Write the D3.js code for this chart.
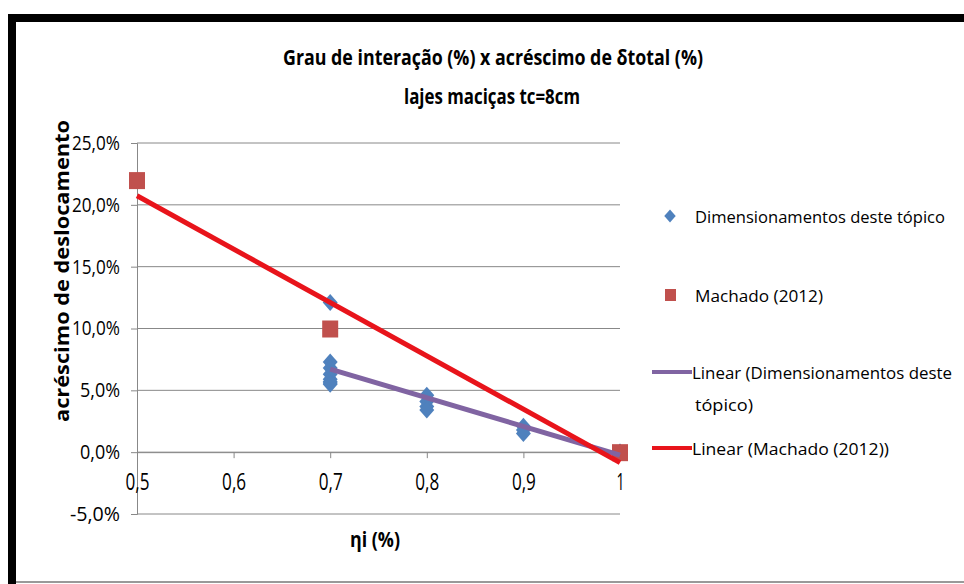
<!DOCTYPE html>
<html>
<head>
<meta charset="utf-8">
<script src="https://cdn.jsdelivr.net/npm/d3@7"></script>
<style>
  html, body { margin: 0; padding: 0; background: #fff; }
  svg { display: block; }
  text { font-family: "Open Sans", "Noto Sans", sans-serif; fill: #000; }
</style>
</head>
<body>
<svg id="chart" width="964" height="584"></svg>
<script>
// Degree of interaction (x) vs. increase of total displacement (y, fraction)
const dimX = [0.7, 0.7, 0.7, 0.7, 0.7, 0.7, 0.7, 0.7,
              0.8, 0.8, 0.8, 0.8,
              0.9, 0.9, 0.9,
              1.0, 1.0, 1.0, 1.0, 1.0];
const dimY = [0.121, 0.073, 0.068, 0.063, 0.059, 0.057, 0.056, 0.055,
              0.046, 0.041, 0.037, 0.034,
              0.021, 0.018, 0.015,
              0.0, 0.0, 0.0, 0.0, 0.0];
const machX = [0.5, 0.7, 1.0];
const machY = [0.22, 0.10, 0.0];

const xTicks = [0.5, 0.6, 0.7, 0.8, 0.9, 1.0];
const yTicks = [-0.05, 0, 0.05, 0.10, 0.15, 0.20, 0.25];

const titleText = "Grau de interação (%) x acréscimo de δtotal (%)";
const subtitleText = "lajes maciças tc=8cm";
const xTitle = "ηi (%)";
const yTitle = "acréscimo de deslocamento";
const legendLabels = ["Dimensionamentos deste tópico", "Machado (2012)",
                      "Linear (Dimensionamentos deste", "tópico)", "Linear (Machado (2012))"];

const C_BLUE = "#4f81bd", C_RED = "#c0504d", C_PURPLE = "#8064a2", C_LINE_RED = "#e8141b";

const svg = d3.select("#chart");

// frame
svg.append("rect").attr("x", 8).attr("y", 14).attr("width", 956).attr("height", 8).attr("fill", "#000");
svg.append("rect").attr("x", 8).attr("y", 14).attr("width", 8).attr("height", 570).attr("fill", "#000");
svg.append("line").attr("x1", 16).attr("x2", 964).attr("y1", 582).attr("y2", 582)
  .attr("stroke", "#777").attr("stroke-width", 1.5);

const x = d3.scaleLinear().domain([0.5, 1.0]).range([137, 620]);
const y = d3.scaleLinear().domain([-0.05, 0.25]).range([514, 143]);

const fmtPct = v => d3.format(".1%")(v).replace(".", ",").replace("\u2212", "-");
const fmtX = v => (v === 1 ? "1" : d3.format(".1f")(v).replace(".", ","));

// narrow, tall lettering: squeeze text horizontally to a given width
function squeeze(sel, widthFn) {
  sel.attr("textLength", widthFn).attr("lengthAdjust", "spacingAndGlyphs");
}

// gridlines
svg.append("g").selectAll("line").data(yTicks).join("line")
  .attr("x1", x(0.5)).attr("x2", x(1.0))
  .attr("y1", d => y(d)).attr("y2", d => y(d))
  .attr("stroke", "#888").attr("stroke-width", 1);

// y axis
const yAxis = svg.append("g").attr("transform", `translate(${x(0.5)},0)`)
  .call(d3.axisLeft(y).tickValues(yTicks).tickFormat(fmtPct).tickSize(6).tickPadding(11));
yAxis.select(".domain").attr("stroke", "#888");
yAxis.selectAll(".tick line").attr("stroke", "#888");
yAxis.selectAll("text").attr("font-size", 20).attr("fill", "#111")
  .attr("font-family", "'Open Sans', sans-serif");
squeeze(yAxis.selectAll("text"), d => (d < 0 ? 50 : d >= 0.1 ? 48 : 40));

// x axis crossing at zero
const xAxis = svg.append("g").attr("transform", `translate(0,${y(0)})`)
  .call(d3.axisBottom(x).tickValues(xTicks).tickFormat(fmtX).tickSize(6).tickPadding(16));
xAxis.select(".domain").attr("stroke", "#888");
xAxis.selectAll(".tick line").attr("stroke", "#888");
xAxis.selectAll("text").attr("font-size", 23).attr("fill", "#111")
  .attr("font-family", "'Open Sans', sans-serif");
squeeze(xAxis.selectAll("text"), d => (d === 1 ? 8 : 24));

// least squares fit
function fit(xs, ys) {
  const mx = d3.mean(xs), my = d3.mean(ys);
  let sxy = 0, sxx = 0;
  xs.forEach((v, i) => { sxy += (v - mx) * (ys[i] - my); sxx += (v - mx) * (v - mx); });
  const b = sxy / sxx, a = my - b * mx;
  const [x0, x1] = d3.extent(xs);
  return [[x0, a + b * x0], [x1, a + b * x1]];
}

const diamondPath = size => {
  const w = size / 2 * 0.88, h = size / 2;
  return `M0,${-h}L${w},0L0,${h}L${-w},0Z`;
};

// markers
svg.append("g").selectAll("path").data(dimX.map((v, i) => [v, dimY[i]])).join("path")
  .attr("d", diamondPath(17))
  .attr("transform", d => `translate(${x(d[0])},${y(d[1])})`)
  .attr("fill", C_BLUE);
svg.append("g").selectAll("rect").data(machX.map((v, i) => [v, machY[i]])).join("rect")
  .attr("x", d => x(d[0]) - 8).attr("y", d => y(d[1]) - 8)
  .attr("width", 16).attr("height", 17).attr("fill", C_RED);

// trendlines
const line = d3.line().x(d => x(d[0])).y(d => y(d[1]));
svg.append("path").attr("d", line(fit(dimX, dimY)))
  .attr("stroke", C_PURPLE).attr("stroke-width", 5).attr("fill", "none");
svg.append("path").attr("d", line(fit(machX, machY)))
  .attr("stroke", C_LINE_RED).attr("stroke-width", 5).attr("fill", "none");

// titles
squeeze(svg.append("text").attr("x", 493).attr("y", 65).attr("text-anchor", "middle")
  .attr("font-size", 22).attr("font-weight", "bold").text(titleText), 420);
squeeze(svg.append("text").attr("x", 492).attr("y", 104).attr("text-anchor", "middle")
  .attr("font-size", 22).attr("font-weight", "bold").text(subtitleText), 176);
squeeze(svg.append("text").attr("x", 375).attr("y", 547).attr("text-anchor", "middle")
  .attr("font-size", 22).attr("font-weight", "bold").text(xTitle), 50);
squeeze(svg.append("text").attr("transform", "translate(69,271) rotate(-90)").attr("text-anchor", "middle")
  .attr("font-family", "'DejaVu Sans', sans-serif")
  .attr("font-size", 19).attr("font-weight", "bold").text(yTitle), 302);

// legend
const lg = svg.append("g");
lg.append("path").attr("d", diamondPath(13)).attr("transform", "translate(670,216)").attr("fill", C_BLUE);
lg.append("rect").attr("x", 665).attr("y", 289).attr("width", 11).attr("height", 12).attr("fill", C_RED);
lg.append("line").attr("x1", 652).attr("x2", 692).attr("y1", 372).attr("y2", 372)
  .attr("stroke", C_PURPLE).attr("stroke-width", 4);
lg.append("line").attr("x1", 652).attr("x2", 692).attr("y1", 448).attr("y2", 448)
  .attr("stroke", C_LINE_RED).attr("stroke-width", 4);
const legPos = [[695, 223, 250], [695, 302, 128], [692, 379, 260], [695, 411, 58], [692, 455, 197]];
squeeze(lg.selectAll("text").data(legendLabels).join("text")
  .attr("x", (d, i) => legPos[i][0]).attr("y", (d, i) => legPos[i][1])
  .attr("font-size", 17)
  .text(d => d), (d, i) => legPos[i][2]);
</script>
</body>
</html>
